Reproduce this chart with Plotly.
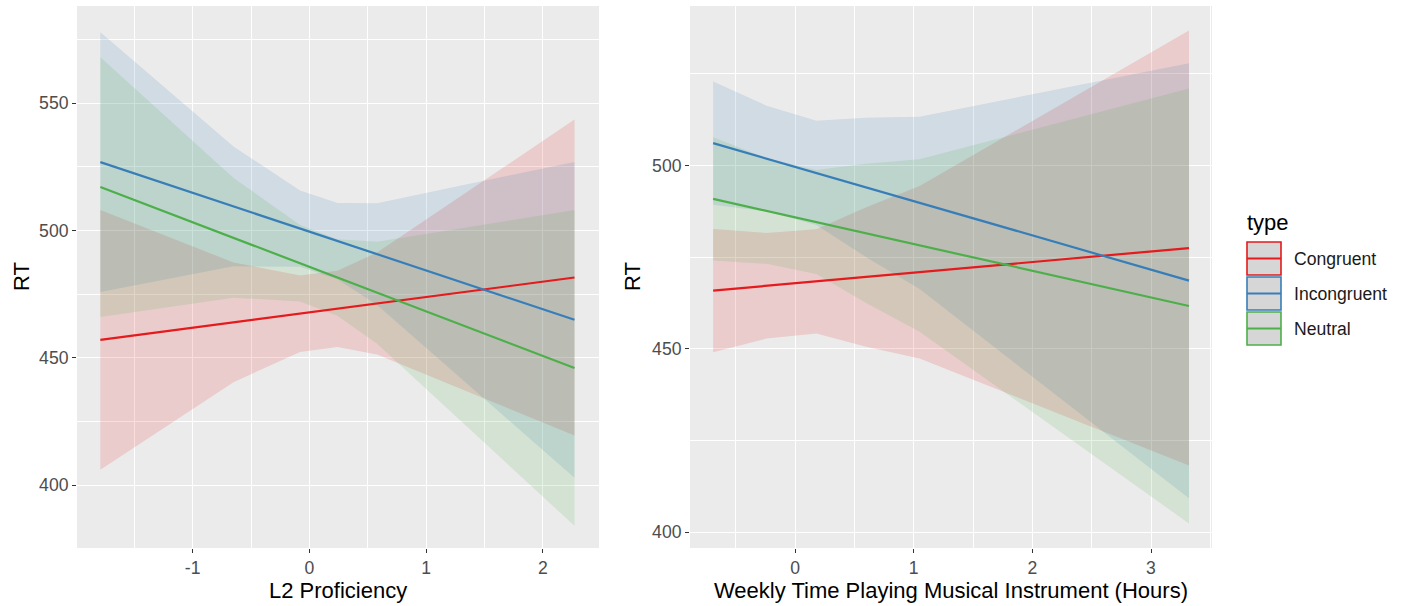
import plotly.graph_objects as go

W, H = 1403, 606

# ---------------- data ----------------
series = ["Congruent", "Incongruent", "Neutral"]
colors = {"Congruent": "#E41A1C", "Incongruent": "#377EB8", "Neutral": "#4DAF4A"}
fills = {"Congruent": "rgba(228,26,28,0.15)", "Incongruent": "rgba(55,126,184,0.15)",
         "Neutral": "rgba(77,175,74,0.15)"}

# Left panel: L2 Proficiency
l2_x = [-1.79, -0.65, -0.08, 0.24, 0.58, 2.27]
l2_fit = {
    "Congruent":   [457.0, 463.9, 467.3, 469.2, 471.3, 481.5],
    "Incongruent": [526.8, 509.4, 500.7, 495.8, 490.7, 464.9],
    "Neutral":     [517.0, 497.1, 487.1, 481.5, 475.5, 446.0],
}
l2_hi = {
    "Congruent":   [508.0, 487.4, 482.3, 484.2, 491.3, 543.5],
    "Incongruent": [577.8, 532.9, 515.7, 510.8, 510.7, 526.9],
    "Neutral":     [568.0, 520.6, 502.1, 496.5, 495.5, 508.0],
}
l2_lo = {
    "Congruent":   [406.0, 440.4, 452.3, 454.2, 451.3, 419.5],
    "Incongruent": [475.8, 485.9, 485.7, 480.8, 470.7, 402.9],
    "Neutral":     [466.0, 473.6, 472.1, 466.5, 455.5, 384.0],
}

# Right panel: Weekly time playing musical instrument
mus_x = [-0.69, -0.24, 0.18, 0.60, 1.05, 3.32]
mus_fit = {
    "Congruent":   [465.9, 467.2, 468.4, 469.6, 470.9, 477.5],
    "Incongruent": [506.1, 501.9, 498.0, 494.0, 489.8, 468.6],
    "Neutral":     [490.9, 487.6, 484.6, 481.5, 478.2, 461.7],
}
mus_hi = {
    "Congruent":   [482.7, 481.6, 482.6, 488.6, 494.4, 536.8],
    "Incongruent": [522.9, 516.3, 512.2, 513.0, 513.3, 527.9],
    "Neutral":     [507.7, 502.0, 498.8, 500.5, 501.7, 521.0],
}
mus_lo = {
    "Congruent":   [449.1, 452.8, 454.2, 450.6, 447.4, 418.2],
    "Incongruent": [489.3, 487.5, 483.8, 475.0, 466.3, 409.3],
    "Neutral":     [474.1, 473.2, 470.4, 462.5, 454.7, 402.4],
}

# tick labels
l2_xticks = [-1, 0, 1, 2]
l2_xticklabels = ["-1", "0", "1", "2"]
l2_yticks = [400, 450, 500, 550]
l2_yticklabels = ["400", "450", "500", "550"]
mus_xticks = [0, 1, 2, 3]
mus_xticklabels = ["0", "1", "2", "3"]
mus_yticks = [400, 450, 500]
mus_yticklabels = ["400", "450", "500"]

x_titles = ["L2 Proficiency", "Weekly Time Playing Musical Instrument (Hours)"]
y_title = "RT"
legend_title = "type"

# ---------------- figure ----------------
fig = go.Figure()

def add_panel(xs, fit, hi, lo, xa, ya):
    for s in series:
        fig.add_trace(go.Scatter(
            x=xs + xs[::-1], y=hi[s] + lo[s][::-1], fill="toself",
            fillcolor=fills[s], line=dict(width=0), mode="lines",
            hoverinfo="skip", showlegend=False, xaxis=xa, yaxis=ya))
    for s in series:
        fig.add_trace(go.Scatter(
            x=xs, y=fit[s], mode="lines", line=dict(color=colors[s], width=2.2),
            name=s, showlegend=False, xaxis=xa, yaxis=ya))

add_panel(l2_x, l2_fit, l2_hi, l2_lo, "x", "y")
add_panel(mus_x, mus_fit, mus_hi, mus_lo, "x2", "y2")

def px(x):
    return x / W

def py(y):
    return 1 - y / H

font = "Liberation Sans, Arial, Helvetica, sans-serif"
tick_font = dict(family=font, size=17.6, color="#4D4D4D")

def axis_common(**kw):
    d = dict(showgrid=True, gridcolor="white", gridwidth=1.3, zeroline=False,
             showline=False, ticks="outside", ticklen=4, tickwidth=1.2,
             tickcolor="#333333", tickfont=tick_font, tickmode="array",
             minor=dict(showgrid=True, gridcolor="white", gridwidth=0.6, ticks=""))
    d.update(kw)
    return d

y_dom = [py(548), py(6)]
fig.update_layout(
    width=W, height=H, paper_bgcolor="white", plot_bgcolor="#EBEBEB",
    margin=dict(l=0, r=0, t=0, b=0), showlegend=False,
    font=dict(family=font),
    xaxis=axis_common(domain=[px(77), px(599)], range=[-1.99, 2.48],
                      tickvals=l2_xticks, ticktext=l2_xticklabels,
                      minor_dtick=0.5, minor_tick0=0, anchor="y"),
    yaxis=axis_common(domain=y_dom, range=[375.3, 588.1],
                      tickvals=l2_yticks, ticktext=l2_yticklabels,
                      minor_dtick=25, minor_tick0=0, anchor="x"),
    xaxis2=axis_common(domain=[px(690), px(1212)], range=[-0.885, 3.514],
                       tickvals=mus_xticks, ticktext=mus_xticklabels,
                       minor_dtick=0.5, minor_tick0=0, anchor="y2"),
    yaxis2=axis_common(domain=y_dom, range=[395.7, 543.5],
                       tickvals=mus_yticks, ticktext=mus_yticklabels,
                       minor_dtick=25, minor_tick0=0, anchor="x2"),
)

ann = []
title_font = dict(family=font, size=22, color="black")
ann.append(dict(x=px(338), y=py(590), xref="paper", yref="paper", text=x_titles[0],
                showarrow=False, font=title_font, xanchor="center", yanchor="middle"))
ann.append(dict(x=px(951), y=py(590), xref="paper", yref="paper", text=x_titles[1],
                showarrow=False, font=title_font, xanchor="center", yanchor="middle"))
ann.append(dict(x=px(21), y=py(277), xref="paper", yref="paper", text=y_title,
                showarrow=False, font=title_font, textangle=-90,
                xanchor="center", yanchor="middle"))
ann.append(dict(x=px(632), y=py(277), xref="paper", yref="paper", text=y_title,
                showarrow=False, font=title_font, textangle=-90,
                xanchor="center", yanchor="middle"))

# legend (drawn manually to mimic ggplot keys)
ann.append(dict(x=px(1245), y=py(222), xref="paper", yref="paper", text=legend_title,
                showarrow=False, font=title_font, xanchor="left", yanchor="middle"))
shapes = []
key_tops = [242, 277, 312]
for s, top in zip(series, key_tops):
    x0, x1, y0, y1 = 1247, 1281, top, top + 33
    shapes.append(dict(type="rect", xref="paper", yref="paper",
                       x0=px(x0), x1=px(x1), y0=py(y1), y1=py(y0),
                       fillcolor="#D6D6D6", line=dict(color=colors[s], width=1.6)))
    ym = (y0 + y1) / 2
    shapes.append(dict(type="line", xref="paper", yref="paper",
                       x0=px(x0), x1=px(x1), y0=py(ym), y1=py(ym),
                       line=dict(color=colors[s], width=2.2)))
    ann.append(dict(x=px(1292), y=py(ym), xref="paper", yref="paper", text=s,
                    showarrow=False, font=dict(family=font, size=17.6, color="#1A1A1A"),
                    xanchor="left", yanchor="middle"))

fig.update_layout(annotations=ann, shapes=shapes)

fig.write_html("out.html", config={"displayModeBar": False},
               post_script="document.body.style.margin='0';document.body.style.overflow='hidden';")
